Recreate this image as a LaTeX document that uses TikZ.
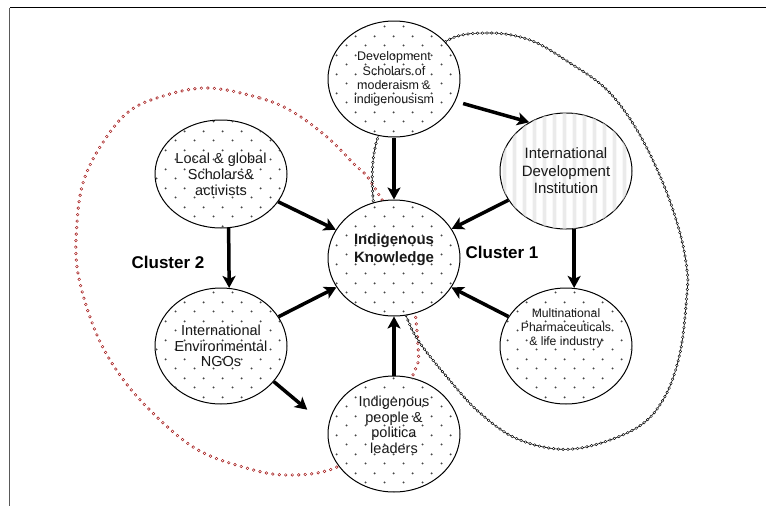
\documentclass[tikz,border=0pt]{standalone}
\usepackage{fontspec}
\setmainfont{Liberation Sans}
\usetikzlibrary{arrows.meta, positioning, shapes.geometric, patterns, backgrounds}
\definecolor{clusterred}{RGB}{165,25,25}
\definecolor{dotgray}{RGB}{70,70,70}
\definecolor{stripegray}{RGB}{225,225,225}
\definecolor{textgray}{RGB}{25,25,25}

\pgfdeclarepatternformonly{sparsedots}{\pgfqpoint{0pt}{0pt}}{\pgfqpoint{19pt}{19pt}}{\pgfqpoint{19pt}{19pt}}{%
  \pgfpathcircle{\pgfqpoint{4.75pt}{4.75pt}}{1.1pt}%
  \pgfpathcircle{\pgfqpoint{14.25pt}{14.25pt}}{1.1pt}%
  \pgfusepath{fill}}
\pgfdeclarepatternformonly{softstripes}{\pgfqpoint{0pt}{0pt}}{\pgfqpoint{10pt}{1pt}}{\pgfqpoint{10pt}{1pt}}{%
  \pgfpathrectangle{\pgfqpoint{3pt}{0pt}}{\pgfqpoint{4pt}{1pt}}%
  \pgfusepath{fill}}

\begin{document}
\begin{tikzpicture}[x=1pt, y=-1pt,
      ring/.style={ellipse, draw, line width=1pt, inner sep=0pt, minimum width=132pt,
                   minimum height=116pt, align=center, text=textgray, fill=white},
      dotblob/.style={ring, postaction={pattern=sparsedots, pattern color=dotgray}},
      stripeblob/.style={ring, postaction={pattern=softstripes, pattern color=stripegray}},
      blobtext/.style={align=center, text=textgray, inner sep=0pt},
      arrow/.style={-{Stealth[length=12pt, width=13pt, inset=3pt]}, line width=3.5pt},
      clusterlabel/.style={font=\fontsize{17}{20}\selectfont\bfseries, inner sep=0pt},
      dotloop/.style={draw=clusterred, line width=3.4pt, line cap=round, dash pattern=on 0pt off 6.5pt,
                      postaction={draw=white, line width=1.5pt, line cap=round, dash pattern=on 0pt off 6.5pt}},
      chainloop/.style={draw=black, line width=0.6pt,
                      postaction={draw=black, line width=3.2pt, line cap=round, dash pattern=on 0pt off 4.8pt},
                      postaction={draw=white, line width=1.6pt, line cap=round, dash pattern=on 0pt off 4.8pt}}
    ]
    \useasboundingbox (0,0) rectangle (766,506);

    % frame
    \draw[line width=1.6pt] (766,7.5) -- (9.5,7.5);
    \draw[gray!70!black, line width=1.6pt] (9.5,7.5) -- (9.5,506);

    \node[dotblob, label={[blobtext, font=\fontsize{15}{18}\selectfont\bfseries, yshift=8pt]center:{Indigenous\\Knowledge}}]
      (ik) at (394,258) {};
    \node[dotblob, above=62pt of ik, font=\fontsize{12.5}{14.3}\selectfont]
      (ds) {Development\\Scholars of\\moderaism \&\\indigenousism};
    \node[dotblob, below=59pt of ik, label={[blobtext, font=\fontsize{14.5}{15.5}\selectfont, yshift=9pt]center:{Indigenous\\people \&\\politica\\leaders}}]
      (ippl) {};
    \node[dotblob, minimum height=108pt, font=\fontsize{14.5}{16}\selectfont]
      (lg) at (221,174) {Local \& global\\Scholars\&\\activists};
    \node[stripeblob, font=\fontsize{15}{17.5}\selectfont]
      (idi) at (566,171) {International\\Development\\Institution};
    \node[dotblob, font=\fontsize{14.5}{15.5}\selectfont]
      (ieng) at (221,346) {International\\Environmental\\NGOs};
    \node[dotblob, label={[blobtext, font=\fontsize{12.2}{14}\selectfont, yshift=18pt]center:{Multinational\\Pharmaceuticals\\\& life industry}}]
      (mpli) at (566,346) {};

    \node[clusterlabel, right=5pt of ik, yshift=6pt] (c1) {Cluster 1};
    \node[clusterlabel] (c2) at (168,262) {Cluster 2};

    \draw[arrow] (ds) -- (ik);
    \draw[arrow, shorten <=8pt] (ds.-20) -- (idi.127);
    \draw[arrow] (lg) -- (ik);
    \draw[arrow] (idi) -- (ik);
    \draw[arrow] (lg.-82) -- (ieng.82);
    \draw[arrow] (idi.-82) -- (mpli.82);
    \draw[arrow] (ieng) -- (ik);
    \draw[arrow] (mpli) -- (ik);
    \draw[arrow] (ippl) -- (ik);
    \draw[arrow, shorten >=27pt] (ieng.-34) -- (ippl.174);

    % cluster outlines behind the nodes
    \begin{scope}[on background layer]
      \draw[dotloop] plot[smooth cycle, tension=0.6] coordinates {
        (207,88) (260,98) (293,112) (327,137) (353,163) (373,185) (405,250)
        (418,345) (413,375) (385,430) (337,467) (287,475) (243,467) (193,447)
        (143,403) (110,360) (90,317) (77,267) (77,223) (83,183) (100,147)
        (127,113) (160,97)};
      \draw[chainloop] plot[smooth cycle, tension=0.6] coordinates {
        (445,42) (487,33) (530,40) (570,63) (607,90) (637,130) (663,183)
        (680,233) (687,270) (687,293) (680,353) (663,400) (633,430) (573,449)
        (520,440) (480,413) (447,377) (420,343) (407,318) (385,260) (373,198)
        (377,140) (405,88)};
    \end{scope}
\end{tikzpicture}
\end{document}
